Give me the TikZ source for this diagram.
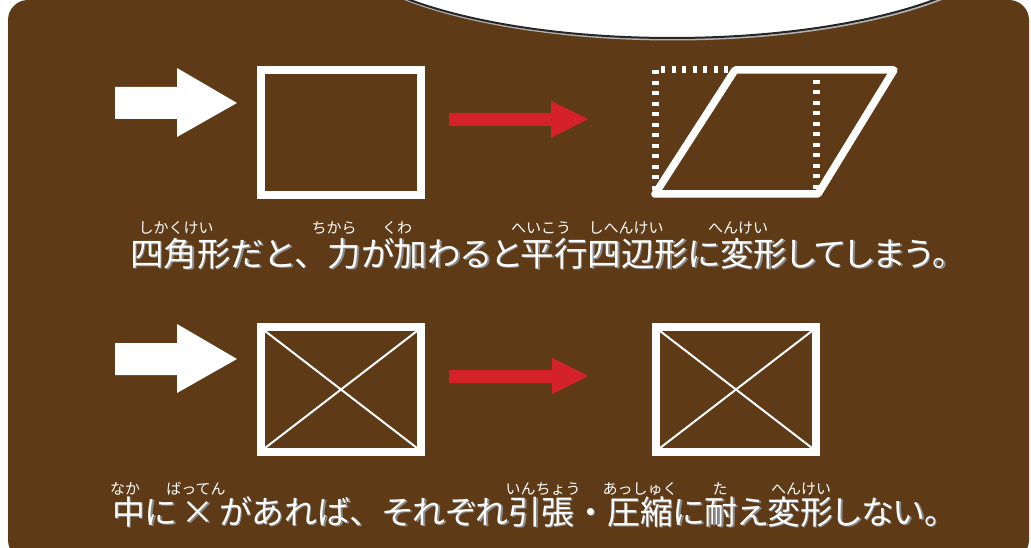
\documentclass[tikz,border=0pt]{standalone}
\usepackage{fontspec}
\newfontfamily\jp[RawFeature=+palt]{Noto Sans CJK JP}
\newfontfamily\jpn{Noto Sans CJK JP}
\newcommand\fw[1]{{\jpn #1}}
\definecolor{bg}{HTML}{5E3A16}
\definecolor{redar}{HTML}{D52229}
\definecolor{shad}{HTML}{8A8A8A}
\tikzset{
  mainline/.style={anchor=base west, inner sep=0pt, font=\jp\fontsize{33.5}{33.5}\selectfont},
  secondline/.style={anchor=base west, inner sep=0pt, font=\jp\fontsize{32.9}{32.9}\selectfont},
  ruby/.style={anchor=base, inner sep=0pt, text=white, font=\jpn\fontsize{15}{15}\selectfont},
  whitearrow/.style={fill=white},
  redarrow/.style={fill=redar},
  frame/.style={draw=white, line width=8pt},
  brace/.style={draw=white, line width=2pt},
  dots/.style={draw=white, line width=7pt, dash pattern=on 4pt off 6.5pt}
}
\begin{document}
\begin{tikzpicture}[x=1pt,y=-1pt]
\useasboundingbox (0,0) rectangle (1031,548);
\clip (0,0) rectangle (1031,548);
% background panel
\fill[bg, rounded corners=20pt] (8,0) rectangle (1029,560);
% top ellipse
\draw[line width=3pt, draw=black!30, fill=black!30] (673,-69) ellipse [x radius=344, y radius=108];
\draw[line width=2pt, draw=black!85, fill=white] (672,-70) ellipse [x radius=344, y radius=108];

% ---------- row 1 ----------
\fill[whitearrow] (115,87) -- (177,87) -- (177,68) -- (237,103) -- (177,137) -- (177,119) -- (115,119) -- cycle;
\draw[frame] (261,70) rectangle (421,195);
\fill[redarrow] (449,113) -- (551,113) -- (551,101) -- (588,119) -- (551,138) -- (551,126) -- (449,126) -- cycle;
% parallelogram with dotted guides
\coordinate (pa) at (655,194);
\coordinate (pb) at (818,194);
\coordinate (pc) at (894,70);
\coordinate (pd) at (735,70);
\draw[dots] (655,190) -- (655,70) -- (731,70);
\draw[dots] (816,80) -- (816,190);
\draw[frame, line width=7.5pt, line join=round, line cap=round] (pa) -- (pb) -- (pc) -- (pd) -- cycle;

% ---------- row 2 ----------
\fill[whitearrow] (115,343) -- (177,343) -- (177,324) -- (237,359) -- (177,393) -- (177,375) -- (115,375) -- cycle;
\draw[frame] (261,327) rectangle (421,452);
\draw[brace] (265,331) -- (417,448) (417,331) -- (265,448);
\fill[redarrow] (449,370) -- (552,370) -- (552,358) -- (588,376) -- (552,394) -- (552,383) -- (449,383) -- cycle;
\draw[frame] (656,327) rectangle (816,452);
\draw[brace] (660,331) -- (812,448) (812,331) -- (660,448);

% ---------- text line 1 ----------
\node[mainline, text=shad] (t1s) at (131.5,267.5) {四角形だと\fw{、}力が加わると平行四辺形に変形してしまう\fw{。}};
\node[mainline, text=white] (t1) at (130,266) {四角形だと\fw{、}力が加わると平行四辺形に変形してしまう\fw{。}};
\node[ruby] (r1a) at (176,234) {しかくけい};
\node[ruby] (r1b) at (334,234) {ちから};
\node[ruby] (r1c) at (397,234) {くわ};
\node[ruby] (r1d) at (541,234) {へいこう};
\node[ruby] (r1e) at (626,234) {しへんけい};
\node[ruby] (r1f) at (738,234) {へんけい};

% ---------- text line 2 ----------
\node[secondline, text=shad] (t2s) at (113.5,525.5) {中に\hspace{0.15em}×\hspace{0.15em}があれば\fw{、}それぞれ引張\fw{・}圧縮に耐え変形しない\fw{。}};
\node[secondline, text=white] (t2) at (112,524) {中に\hspace{0.15em}×\hspace{0.15em}があれば\fw{、}それぞれ引張\fw{・}圧縮に耐え変形しない\fw{。}};
\node[ruby] (r2a) at (125,494) {なか};
\node[ruby] (r2b) at (196,494) {ばってん};
\node[ruby] (r2c) at (543,494) {いんちょう};
\node[ruby] (r2d) at (640,494) {あっしゅく};
\node[ruby] (r2e) at (720,494) {た};
\node[ruby] (r2f) at (801,494) {へんけい};
\end{tikzpicture}
\end{document}
